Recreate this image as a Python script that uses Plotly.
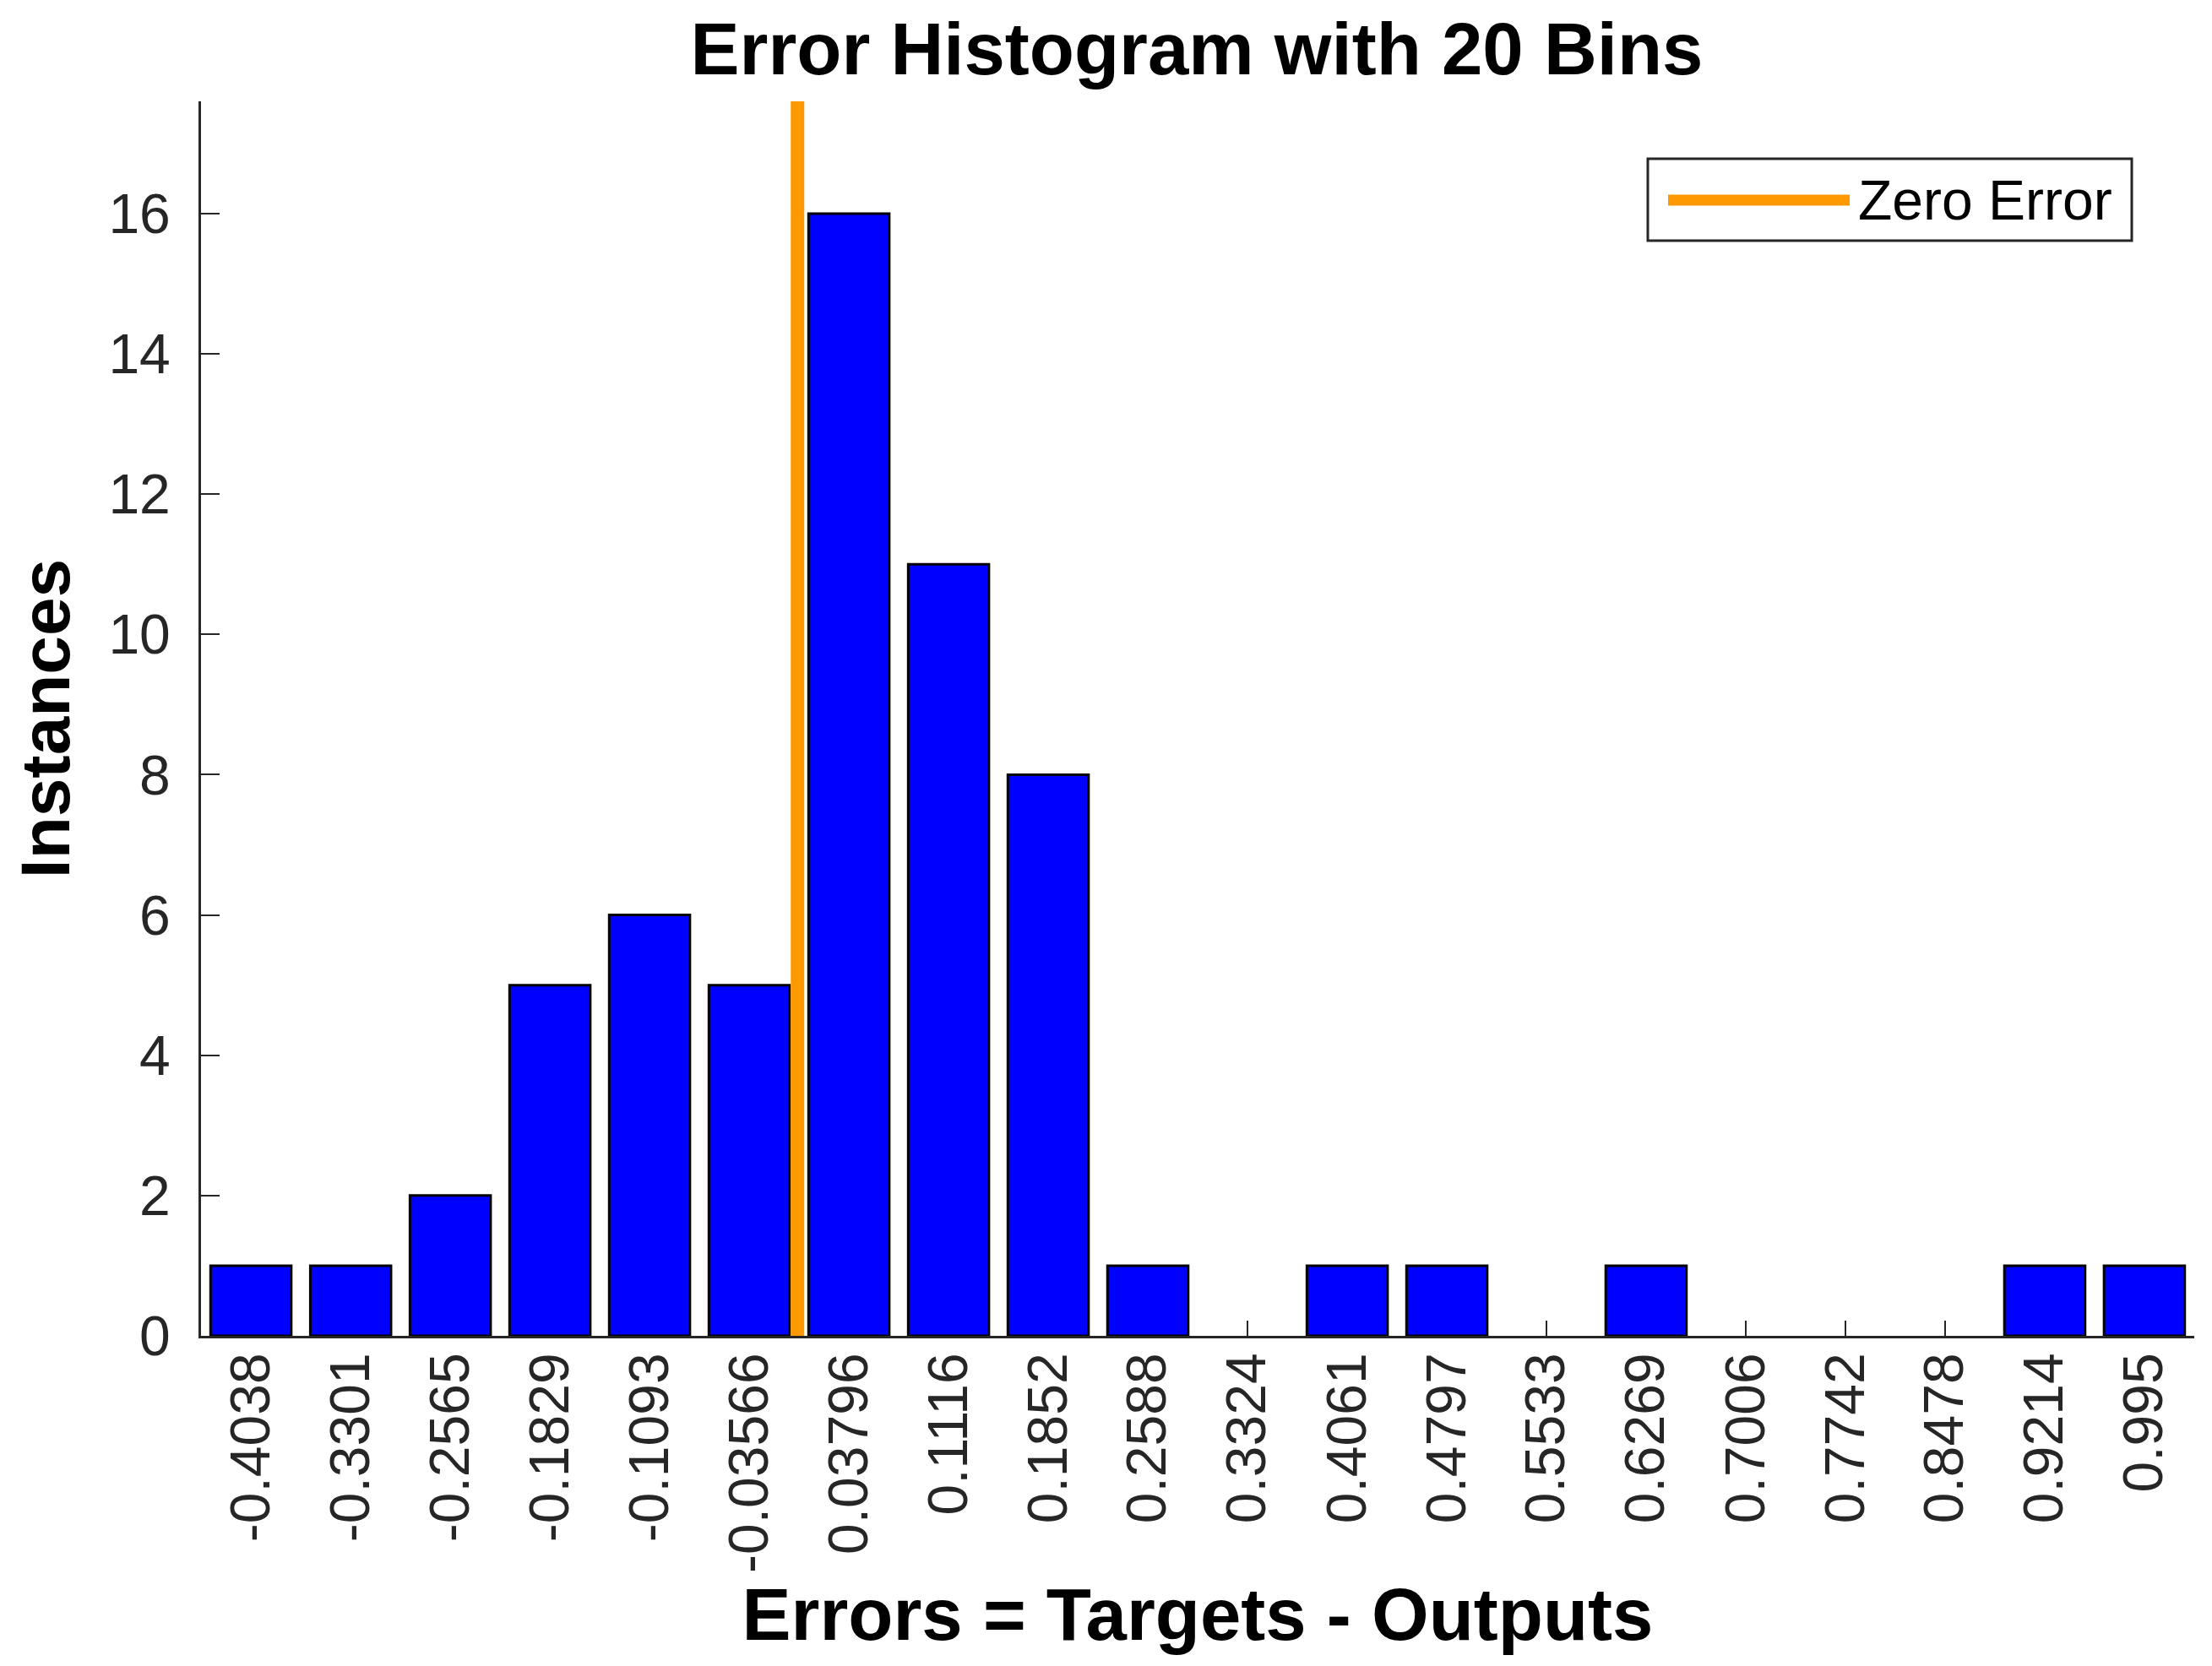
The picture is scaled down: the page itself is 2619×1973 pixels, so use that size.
import plotly.graph_objects as go

# ---- data ----
bin_labels = ["-0.4038", "-0.3301", "-0.2565", "-0.1829", "-0.1093", "-0.03566",
              "0.03796", "0.1116", "0.1852", "0.2588", "0.3324", "0.4061",
              "0.4797", "0.5533", "0.6269", "0.7006", "0.7742", "0.8478",
              "0.9214", "0.995"]
bin_centers = [float(s) for s in bin_labels]
instances = [1, 1, 2, 5, 6, 5, 16, 11, 8, 1, 0, 1, 1, 0, 1, 0, 0, 0, 1, 1]
y_ticks = [0, 2, 4, 6, 8, 10, 12, 14, 16]
zero_error = 0.0
y_max = 17.6

FONT = "Liberation Sans, Arial, Helvetica, sans-serif"
DARK = "#262626"
ORANGE = "#FF9900"

step = bin_centers[1] - bin_centers[0]
x_range = [bin_centers[0] - step / 2, bin_centers[-1] + step / 2]

fig = go.Figure()
fig.add_trace(go.Bar(
    x=bin_centers, y=instances, name="Instances",
    marker=dict(color="#0000FF",
                line=dict(color="black", width=[3 if v > 0 else 0 for v in instances])),
    showlegend=False,
))
fig.add_trace(go.Scatter(
    x=[zero_error, zero_error], y=[0, y_max], mode="lines",
    line=dict(color=ORANGE, width=16), name="Zero Error", showlegend=False,
    cliponaxis=False,
))

# page body has an 8px margin, so the figure is laid out 8px smaller/shifted
W, H = 2611, 1965
L, R, T, B = 230, 21, 112, 391

fig.update_layout(
    width=W, height=H,
    margin=dict(l=L, r=R, t=T, b=B, autoexpand=False),
    paper_bgcolor="white", plot_bgcolor="white",
    bargap=0.19,
    font=dict(family=FONT, color=DARK, size=66),
    title=dict(text="<b>Error Histogram with 20 Bins</b>",
               font=dict(family=FONT, size=87, color="black"),
               x=1409 / W, xanchor="center", y=1 - 50 / H, yanchor="middle"),
    xaxis=dict(
        range=x_range, tickmode="array", tickvals=bin_centers, ticktext=bin_labels,
        tickangle=-90, ticks="inside", ticklen=18, tickwidth=2, tickcolor=DARK,
        showline=True, linecolor=DARK, linewidth=3, showgrid=False, zeroline=False,
        layer="below traces", ticklabelstandoff=-9,
        tickfont=dict(family=FONT, size=66, color=DARK),
        title=dict(text="<b>Errors = Targets - Outputs</b>",
                   font=dict(family=FONT, size=87, color="black"), standoff=15),
        automargin=False,
    ),
    yaxis=dict(
        range=[0, y_max], tickmode="array", tickvals=y_ticks,
        ticks="inside", ticklen=22, tickwidth=2, tickcolor=DARK,
        showline=True, linecolor=DARK, linewidth=3, showgrid=False, zeroline=False,
        layer="below traces", ticklabelstandoff=20,
        tickfont=dict(family=FONT, size=66, color=DARK),
        title=dict(text="<b>Instances</b>",
                   font=dict(family=FONT, size=82, color="black"), standoff=24),
        automargin=False,
    ),
)

# manual legend (MATLAB style); positions given in page pixels
pw, ph = W - L - R, H - T - B
OFF = 8
def px(xp):
    return (xp - OFF - L) / pw
def py(yp):
    return (H - B - (yp - OFF)) / ph

fig.add_shape(type="rect", xref="paper", yref="paper",
              x0=px(1951), x1=px(2524), y0=py(285), y1=py(188),
              line=dict(color=DARK, width=3), fillcolor="white", layer="above")
fig.add_shape(type="line", xref="paper", yref="paper",
              x0=px(1975), x1=px(2190), y0=py(237), y1=py(237),
              line=dict(color=ORANGE, width=13), layer="above")
fig.add_annotation(xref="paper", yref="paper", x=px(2198), y=py(237),
                   text="Zero Error", showarrow=False, xanchor="left", yanchor="middle",
                   font=dict(family=FONT, size=66, color="black"))

fig.write_html("out.html")
